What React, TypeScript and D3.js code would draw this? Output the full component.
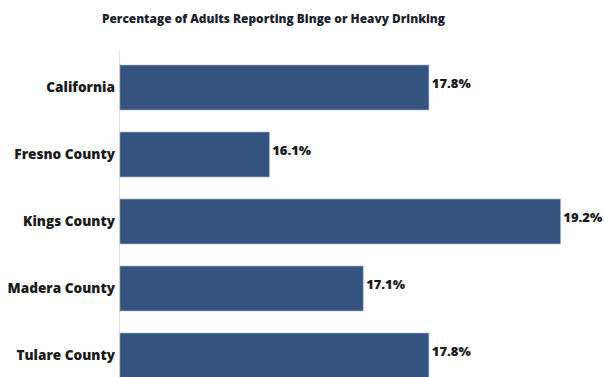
import React from "react";
import * as d3 from "d3";

const categories = ["California", "Fresno County", "Kings County", "Madera County", "Tulare County"];
const values = [17.8, 16.1, 19.2, 17.1, 17.8];
const title = "Percentage of Adults Reporting Binge or Heavy Drinking";

export default function App() {
  const W = 604, H = 377;
  const x = d3.scaleLinear().domain([14.5, 19.5]).range([119, 588.5]);
  const y = d3.scaleBand().domain(categories).range([54, 389]).paddingInner(0.33).paddingOuter(0.165);
  const font = "'Open Sans', sans-serif";
  return (
    <svg width={W} height={H} style={{ position: "absolute", left: 0, top: 0, background: "#fff" }}>
      <text x={273.5} y={23} textAnchor="middle" fontFamily={font} fontWeight={800} fontSize={11.9} fill="#1b1f2e">{title}</text>
      <line x1={119.5} x2={119.5} y1={50} y2={H} stroke="#e3e3e3" strokeWidth={1} />
      {categories.map((c, i) => {
        const by = y(c)!;
        const bh = y.bandwidth();
        return (
          <g key={c}>
            <rect x={120} y={by} width={x(values[i]) - 120} height={bh} fill="#34537f" stroke="#8ea0bb" strokeWidth={0.6} />
            <text x={115} y={by + bh / 2} dy="0.35em" textAnchor="end" fontFamily={font} fontWeight={800} fontSize={13.6} fill="#1b1b1b">{c}</text>
            <text x={x(values[i]) + 3} y={by + bh / 2 - 4} dy="0.35em" fontFamily={font} fontWeight={800} fontSize={13} fill="#1b1b1b">{values[i].toFixed(1)}%</text>
          </g>
        );
      })}
    </svg>
  );
}
